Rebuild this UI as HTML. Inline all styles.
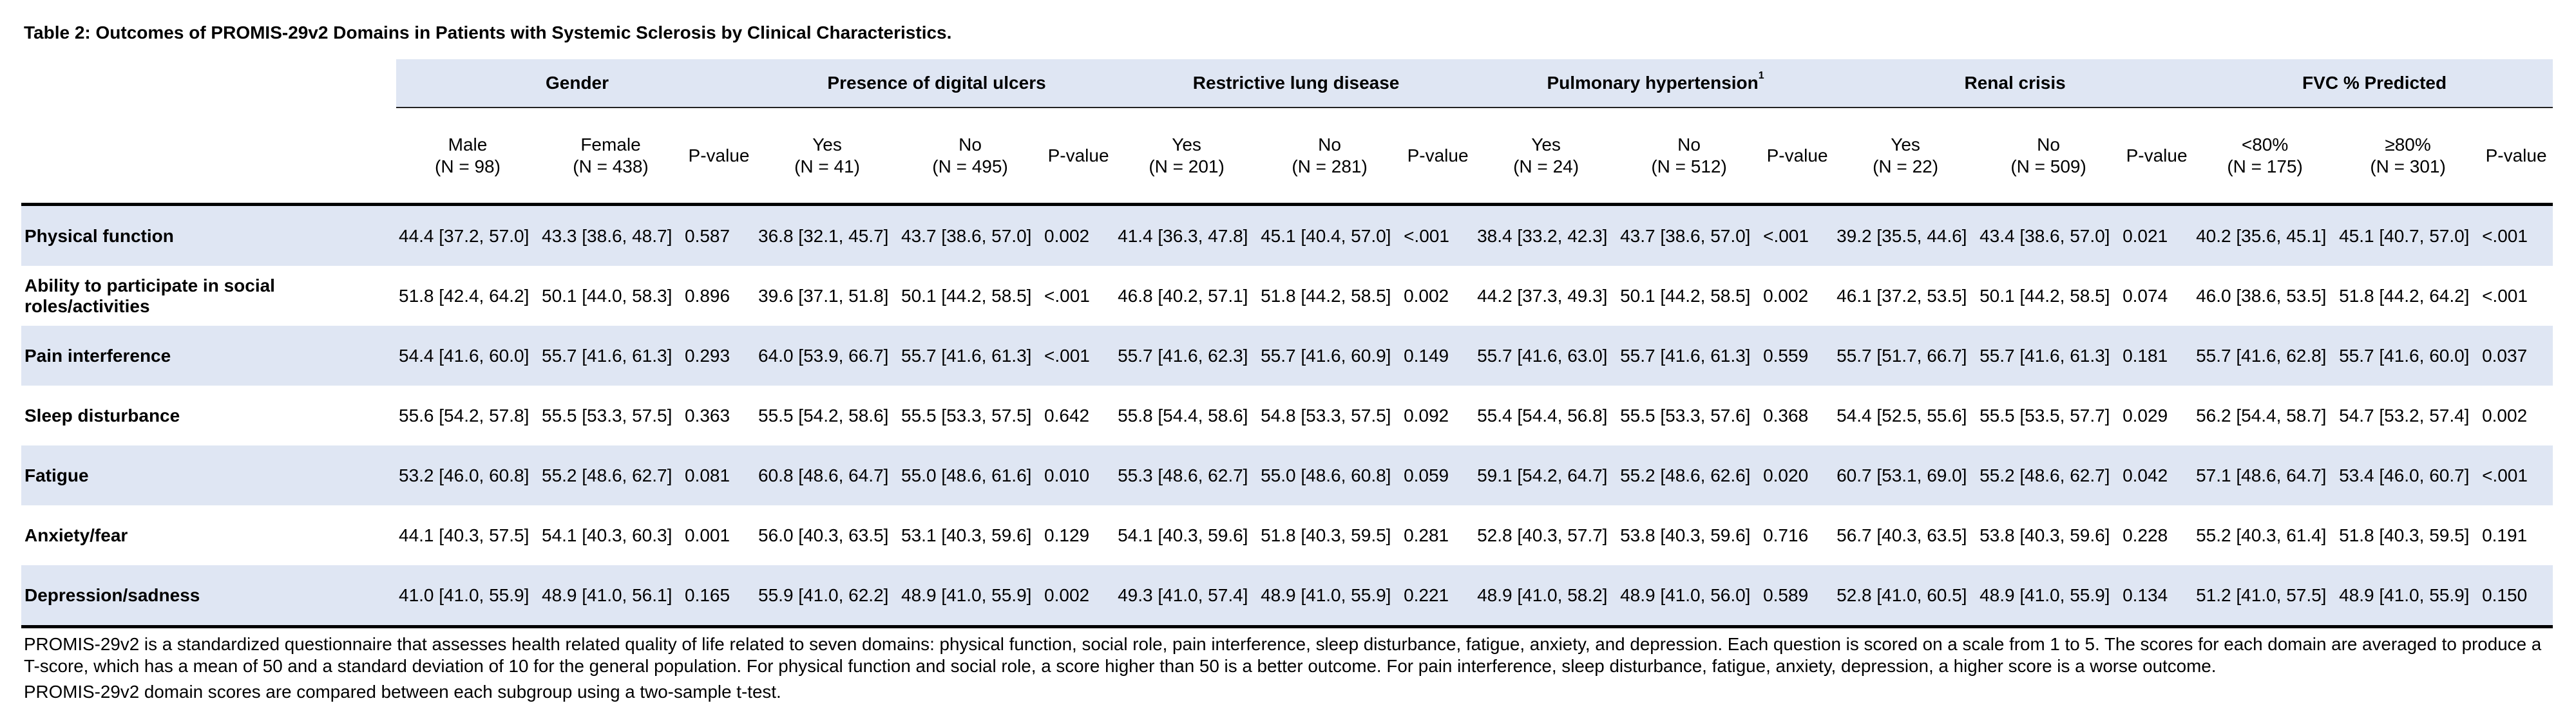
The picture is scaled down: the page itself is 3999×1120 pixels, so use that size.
<!DOCTYPE html>
<html><head><meta charset="utf-8"><style>
html,body{margin:0;padding:0;background:#fff;}
body{width:3999px;height:1120px;position:relative;overflow:hidden;font-family:"Liberation Sans",Arial,sans-serif;color:#000;}
.title{position:absolute;left:37px;top:35px;font-size:28px;font-weight:bold;white-space:nowrap;}
table{position:absolute;left:33px;top:92px;border-collapse:collapse;table-layout:fixed;width:3930px;font-size:28px;}
td{padding:0 0 0 4px;white-space:nowrap;vertical-align:middle;}
tr.h1 td{height:74px;}
tr.h1 td.g{background:#dfe6f3;font-weight:bold;text-align:center;border-bottom:2px solid #222;}
tr.h2 td{height:147px;text-align:center;line-height:34px;border-bottom:5px solid #000;padding:0;}
tr.d td{height:93px;}
tr.b td{background:#dfe6f3;}
tr.last td{border-bottom:5px solid #000;}
td.l{font-weight:bold;padding-left:5px;line-height:32px;}
sup{font-size:16px;vertical-align:top;position:relative;top:-4px;}
.fn{position:absolute;left:37px;font-size:27.8px;white-space:nowrap;line-height:34px;}
</style></head><body>
<div class="title">Table 2: Outcomes of PROMIS-29v2 Domains in Patients with Systemic Sclerosis by Clinical Characteristics.</div>
<table>
<colgroup><col style="width:582px">
<col style="width:222px"><col style="width:222px"><col style="width:114px">
<col style="width:222px"><col style="width:222px"><col style="width:114px">
<col style="width:222px"><col style="width:222px"><col style="width:114px">
<col style="width:222px"><col style="width:222px"><col style="width:114px">
<col style="width:222px"><col style="width:222px"><col style="width:114px">
<col style="width:222px"><col style="width:222px"><col style="width:114px">
</colgroup>
<tr class="h1"><td></td><td class="g" colspan="3">Gender</td><td class="g" colspan="3">Presence of digital ulcers</td><td class="g" colspan="3">Restrictive lung disease</td><td class="g" colspan="3">Pulmonary hypertension<sup>1</sup></td><td class="g" colspan="3">Renal crisis</td><td class="g" colspan="3">FVC % Predicted</td></tr>
<tr class="h2"><td></td>
<td>Male<br>(N = 98)</td><td>Female<br>(N = 438)</td><td>P-value</td>
<td>Yes<br>(N = 41)</td><td>No<br>(N = 495)</td><td>P-value</td>
<td>Yes<br>(N = 201)</td><td>No<br>(N = 281)</td><td>P-value</td>
<td>Yes<br>(N = 24)</td><td>No<br>(N = 512)</td><td>P-value</td>
<td>Yes<br>(N = 22)</td><td>No<br>(N = 509)</td><td>P-value</td>
<td>&lt;80%<br>(N = 175)</td><td>≥80%<br>(N = 301)</td><td>P-value</td></tr>
<tr class="d b"><td class="l">Physical function</td><td>44.4 [37.2, 57.0]</td><td>43.3 [38.6, 48.7]</td><td>0.587</td><td>36.8 [32.1, 45.7]</td><td>43.7 [38.6, 57.0]</td><td>0.002</td><td>41.4 [36.3, 47.8]</td><td>45.1 [40.4, 57.0]</td><td>&lt;.001</td><td>38.4 [33.2, 42.3]</td><td>43.7 [38.6, 57.0]</td><td>&lt;.001</td><td>39.2 [35.5, 44.6]</td><td>43.4 [38.6, 57.0]</td><td>0.021</td><td>40.2 [35.6, 45.1]</td><td>45.1 [40.7, 57.0]</td><td>&lt;.001</td></tr>
<tr class="d"><td class="l">Ability to participate in social<br>roles/activities</td><td>51.8 [42.4, 64.2]</td><td>50.1 [44.0, 58.3]</td><td>0.896</td><td>39.6 [37.1, 51.8]</td><td>50.1 [44.2, 58.5]</td><td>&lt;.001</td><td>46.8 [40.2, 57.1]</td><td>51.8 [44.2, 58.5]</td><td>0.002</td><td>44.2 [37.3, 49.3]</td><td>50.1 [44.2, 58.5]</td><td>0.002</td><td>46.1 [37.2, 53.5]</td><td>50.1 [44.2, 58.5]</td><td>0.074</td><td>46.0 [38.6, 53.5]</td><td>51.8 [44.2, 64.2]</td><td>&lt;.001</td></tr>
<tr class="d b"><td class="l">Pain interference</td><td>54.4 [41.6, 60.0]</td><td>55.7 [41.6, 61.3]</td><td>0.293</td><td>64.0 [53.9, 66.7]</td><td>55.7 [41.6, 61.3]</td><td>&lt;.001</td><td>55.7 [41.6, 62.3]</td><td>55.7 [41.6, 60.9]</td><td>0.149</td><td>55.7 [41.6, 63.0]</td><td>55.7 [41.6, 61.3]</td><td>0.559</td><td>55.7 [51.7, 66.7]</td><td>55.7 [41.6, 61.3]</td><td>0.181</td><td>55.7 [41.6, 62.8]</td><td>55.7 [41.6, 60.0]</td><td>0.037</td></tr>
<tr class="d"><td class="l">Sleep disturbance</td><td>55.6 [54.2, 57.8]</td><td>55.5 [53.3, 57.5]</td><td>0.363</td><td>55.5 [54.2, 58.6]</td><td>55.5 [53.3, 57.5]</td><td>0.642</td><td>55.8 [54.4, 58.6]</td><td>54.8 [53.3, 57.5]</td><td>0.092</td><td>55.4 [54.4, 56.8]</td><td>55.5 [53.3, 57.6]</td><td>0.368</td><td>54.4 [52.5, 55.6]</td><td>55.5 [53.5, 57.7]</td><td>0.029</td><td>56.2 [54.4, 58.7]</td><td>54.7 [53.2, 57.4]</td><td>0.002</td></tr>
<tr class="d b"><td class="l">Fatigue</td><td>53.2 [46.0, 60.8]</td><td>55.2 [48.6, 62.7]</td><td>0.081</td><td>60.8 [48.6, 64.7]</td><td>55.0 [48.6, 61.6]</td><td>0.010</td><td>55.3 [48.6, 62.7]</td><td>55.0 [48.6, 60.8]</td><td>0.059</td><td>59.1 [54.2, 64.7]</td><td>55.2 [48.6, 62.6]</td><td>0.020</td><td>60.7 [53.1, 69.0]</td><td>55.2 [48.6, 62.7]</td><td>0.042</td><td>57.1 [48.6, 64.7]</td><td>53.4 [46.0, 60.7]</td><td>&lt;.001</td></tr>
<tr class="d"><td class="l">Anxiety/fear</td><td>44.1 [40.3, 57.5]</td><td>54.1 [40.3, 60.3]</td><td>0.001</td><td>56.0 [40.3, 63.5]</td><td>53.1 [40.3, 59.6]</td><td>0.129</td><td>54.1 [40.3, 59.6]</td><td>51.8 [40.3, 59.5]</td><td>0.281</td><td>52.8 [40.3, 57.7]</td><td>53.8 [40.3, 59.6]</td><td>0.716</td><td>56.7 [40.3, 63.5]</td><td>53.8 [40.3, 59.6]</td><td>0.228</td><td>55.2 [40.3, 61.4]</td><td>51.8 [40.3, 59.5]</td><td>0.191</td></tr>
<tr class="d b last"><td class="l">Depression/sadness</td><td>41.0 [41.0, 55.9]</td><td>48.9 [41.0, 56.1]</td><td>0.165</td><td>55.9 [41.0, 62.2]</td><td>48.9 [41.0, 55.9]</td><td>0.002</td><td>49.3 [41.0, 57.4]</td><td>48.9 [41.0, 55.9]</td><td>0.221</td><td>48.9 [41.0, 58.2]</td><td>48.9 [41.0, 56.0]</td><td>0.589</td><td>52.8 [41.0, 60.5]</td><td>48.9 [41.0, 55.9]</td><td>0.134</td><td>51.2 [41.0, 57.5]</td><td>48.9 [41.0, 55.9]</td><td>0.150</td></tr>
</table>
<div class="fn" style="top:984px;">PROMIS-29v2 is a standardized questionnaire that assesses health related quality of life related to seven domains: physical function, social role, pain interference, sleep disturbance, fatigue, anxiety, and depression. Each question is scored on a scale from 1 to 5. The scores for each domain are averaged to produce a<br>T-score, which has a mean of 50 and a standard deviation of 10 for the general population. For physical function and social role, a score higher than 50 is a better outcome. For pain interference, sleep disturbance, fatigue, anxiety, depression, a higher score is a worse outcome.</div>
<div class="fn" style="top:1058px;">PROMIS-29v2 domain scores are compared between each subgroup using a two-sample t-test.</div>
</body></html>
